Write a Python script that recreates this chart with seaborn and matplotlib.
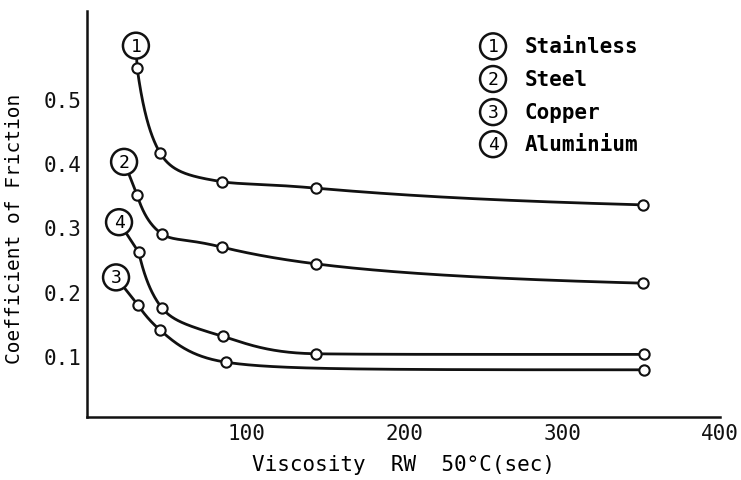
import numpy as np
import pandas as pd
import matplotlib
matplotlib.use("Agg")
import matplotlib.pyplot as plt
import seaborn as sns

# Measured friction coefficients against oil viscosity (Redwood seconds at 50 C)
viscosity_stainless = [30.5, 45.0, 84.5, 144.0, 351.0]
friction_stainless = [0.548, 0.416, 0.371, 0.361, 0.335]

viscosity_steel = [30.5, 46.0, 84.5, 144.0, 351.0]
friction_steel = [0.350, 0.290, 0.269, 0.243, 0.213]

viscosity_copper = [31.0, 45.0, 86.5, 352.0]
friction_copper = [0.179, 0.140, 0.090, 0.078]

viscosity_aluminium = [31.5, 46.0, 85.0, 144.0, 352.0]
friction_aluminium = [0.261, 0.175, 0.130, 0.103, 0.102]

materials = ["Stainless", "Steel", "Copper", "Aluminium"]
numbers = ["1", "2", "3", "4"]
x_ticks = [100, 200, 300, 400]
y_ticks = [0.1, 0.2, 0.3, 0.4, 0.5]

series = {
    "Stainless": (viscosity_stainless, friction_stainless),
    "Steel": (viscosity_steel, friction_steel),
    "Copper": (viscosity_copper, friction_copper),
    "Aluminium": (viscosity_aluminium, friction_aluminium),
}

# where each curve's circled number sits (data coordinates)
label_spots = {
    "Stainless": (29.7, 0.583),
    "Steel": (22.2, 0.402),
    "Copper": (17.1, 0.222),
    "Aluminium": (19.0, 0.308),
}


def hermite(x, y, xs):
    """Smooth Hermite curve through the points, with the slopes limited
    so that each piece stays monotone."""
    x = np.asarray(x, float)
    y = np.asarray(y, float)
    h = np.diff(x)
    d = np.diff(y) / h
    n = len(x)
    m = np.zeros(n)
    for k in range(1, n - 1):
        m[k] = (h[k] * d[k - 1] + h[k - 1] * d[k]) / (h[k - 1] + h[k])
    m[0] = ((2 * h[0] + h[1]) * d[0] - h[0] * d[1]) / (h[0] + h[1])
    m[-1] = ((2 * h[-1] + h[-2]) * d[-1] - h[-1] * d[-2]) / (h[-1] + h[-2])
    if np.sign(m[0]) != np.sign(d[0]):
        m[0] = 0.0
    if np.sign(m[-1]) != np.sign(d[-1]):
        m[-1] = 0.0
    for k in range(n - 1):
        if d[k] == 0:
            m[k] = m[k + 1] = 0.0
            continue
        a, b = max(m[k] / d[k], 0.0), max(m[k + 1] / d[k], 0.0)
        r = a * a + b * b
        if r > 9:
            a, b = a * 3 / np.sqrt(r), b * 3 / np.sqrt(r)
        m[k], m[k + 1] = a * d[k], b * d[k]
    idx = np.clip(np.searchsorted(x, xs) - 1, 0, n - 2)
    t = (xs - x[idx]) / h[idx]
    h00 = 2 * t**3 - 3 * t**2 + 1
    h10 = t**3 - 2 * t**2 + t
    h01 = -2 * t**3 + 3 * t**2
    h11 = t**3 - t**2
    return (h00 * y[idx] + h10 * h[idx] * m[idx]
            + h01 * y[idx + 1] + h11 * h[idx] * m[idx + 1])


def friction_curve(vx, vy):
    """Curve drawn in reciprocal viscosity, where the decay is gentle."""
    u = 1.0 / np.asarray(vx, float)
    order = np.argsort(u)
    xs = np.linspace(vx[0], vx[-1], 800)
    ys = hermite(u[order], np.asarray(vy, float)[order], 1.0 / xs)
    return pd.DataFrame({"viscosity": xs, "friction": ys})


sns.set_theme(style="white")
plt.rcParams["font.family"] = ["DejaVu Sans Mono", "DejaVu Sans"]
plt.rcParams["text.color"] = "black"
plt.rcParams["axes.labelcolor"] = "black"

fig = plt.figure(figsize=(7.41, 4.81), dpi=100)
ax = fig.add_axes([0.117, 0.131, 0.8547, 0.844])

ink = "#111111"
for name in materials:
    vx, vy = series[name]
    curve = friction_curve(vx, vy)
    sns.lineplot(data=curve, x="viscosity", y="friction", ax=ax, color=ink,
                 linewidth=2.0, sort=False, estimator=None, zorder=2)
    pts = pd.DataFrame({"viscosity": vx, "friction": vy})
    sns.scatterplot(data=pts, x="viscosity", y="friction", ax=ax, s=55,
                    marker="o", facecolor="white", edgecolor=ink,
                    linewidth=1.5, zorder=3)
    num = numbers[materials.index(name)]
    ax.annotate(num, xy=(vx[0], vy[0]), xytext=label_spots[name],
                textcoords="data", ha="center", va="center", fontsize=13,
                bbox=dict(boxstyle="circle,pad=0.22", fc="white", ec=ink, lw=1.8),
                arrowprops=dict(arrowstyle="-", color=ink, lw=2.0,
                                shrinkA=0, shrinkB=4),
                zorder=4)

# key in the upper right
key_rows = [0.913, 0.8325, 0.751, 0.672]
for num, name, fy in zip(numbers, materials, key_rows):
    ax.text(0.6416, fy, num, transform=ax.transAxes, ha="center", va="center",
            fontsize=13,
            bbox=dict(boxstyle="circle,pad=0.22", fc="white", ec=ink, lw=1.8))
    ax.text(0.692, fy, name, transform=ax.transAxes, ha="left", va="center",
            fontsize=15, fontweight="bold")

ax.set_xlim(-1.5, 400)
ax.set_ylim(0.0045, 0.637)
ax.set_xticks(x_ticks)
ax.set_xticklabels([str(v) for v in x_ticks])
ax.set_yticks(y_ticks)
ax.set_yticklabels([f"{v:.1f}" for v in y_ticks])
ax.xaxis.get_major_ticks()[-1].tick1line.set_visible(False)

ax.tick_params(axis="both", direction="in", length=8.5, width=1.5,
               colors=ink, labelsize=15, pad=4)
ax.set_xlabel("Viscosity  RW  50°C(sec)", fontsize=15, labelpad=8)
ax.set_ylabel("Coefficient of Friction", fontsize=14, labelpad=10)
ax.yaxis.set_label_coords(-0.099, 0.466)

for side in ["top", "right"]:
    ax.spines[side].set_visible(False)
for side in ["left", "bottom"]:
    ax.spines[side].set_color(ink)
    ax.spines[side].set_linewidth(1.8)

fig.savefig("out.png", dpi=100, facecolor="white")
